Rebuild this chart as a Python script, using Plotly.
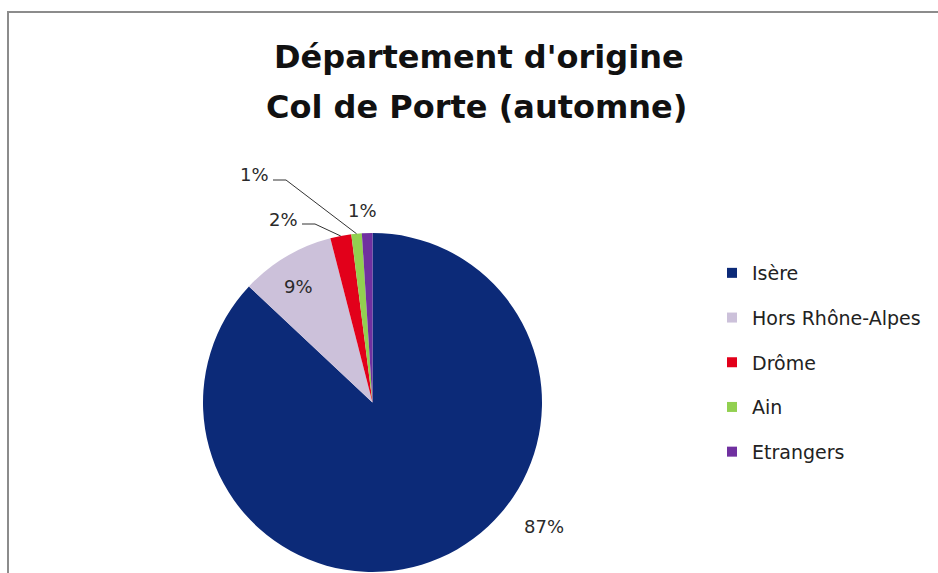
import math
import plotly.graph_objects as go

# ---- data ----
labels = ["Isère", "Hors Rhône-Alpes", "Drôme", "Ain", "Etrangers"]
values = [87, 9, 2, 1, 1]
colors = ["#0C2A78", "#CCC1DA", "#E2001A", "#92D050", "#7030A0"]
title_lines = ["Département d'origine", "Col de Porte (automne)"]

# ---- layout constants (pixels) ----
W, H = 938, 573
PIE_L, PIE_R, PIE_T, PIE_B = 203, 542, 233, 572
label_pos = [(544, 526), (298, 286), (283, 219), (254, 175), (362, 210)]
label_halfwidth = [21, 15, 14, 14, 14]
leader = [False, False, True, True, False]
FONT = "DejaVu Sans"


def px(x):
    return x / W


def py(y):
    return 1 - y / H


fig = go.Figure()
fig.add_trace(go.Pie(
    labels=labels, values=values, sort=False, direction="clockwise", rotation=0,
    marker=dict(colors=colors, line=dict(width=0)),
    textinfo="none", hoverinfo="label+percent", showlegend=False,
    domain=dict(x=[px(PIE_L), px(PIE_R)], y=[py(PIE_B), py(PIE_T)]),
))

# legend entries (one group per category for spacing)
for lab, col in zip(labels, colors):
    fig.add_trace(go.Scatter(
        x=[None], y=[None], mode="markers", name=lab, legendgroup=lab,
        marker=dict(symbol="square", size=10, color=col), hoverinfo="skip",
    ))

annotations = []
shapes = []
# title
annotations.append(dict(text=title_lines[0], x=px(479), y=py(57), xref="paper", yref="paper",
                        showarrow=False, xanchor="center", yanchor="middle",
                        font=dict(family=FONT, size=32, color="#111111", weight=700)))
annotations.append(dict(text=title_lines[1], x=px(476), y=py(107), xref="paper", yref="paper",
                        showarrow=False, xanchor="center", yanchor="middle",
                        font=dict(family=FONT, size=32, color="#111111", weight=700)))

# data labels + leader lines
cx = (PIE_L + PIE_R) / 2
cy = (PIE_T + PIE_B) / 2
r = (PIE_R - PIE_L) / 2
total = sum(values)
cum = 0
for i, v in enumerate(values):
    mid = (cum + v / 2) / total * 2 * math.pi
    cum += v
    lx, ly = label_pos[i]
    annotations.append(dict(text=f"{round(v / total * 100)}%", x=px(lx), y=py(ly),
                            xref="paper", yref="paper", showarrow=False,
                            xanchor="center", yanchor="middle",
                            font=dict(family=FONT, size=18, color="#2a2a2a")))
    if leader[i]:
        hx = cx + r * math.sin(mid)
        hy = cy - r * math.cos(mid)
        sx = lx + label_halfwidth[i] + 5
        sy = ly + 5
        path = (f"M {px(sx)},{py(sy)} L {px(sx + 13)},{py(sy)} L {px(hx)},{py(hy)}")
        shapes.append(dict(type="path", path=path, xref="paper", yref="paper",
                           line=dict(color="#333333", width=1)))

# outer frame
shapes.append(dict(type="rect", xref="paper", yref="paper", x0=px(8), x1=1.05,
                   y0=-0.05, y1=py(12), line=dict(color="#8c8c8c", width=2), layer="below"))

fig.update_layout(
    width=W, height=H,
    margin=dict(l=0, r=0, t=0, b=0),
    paper_bgcolor="white", plot_bgcolor="white",
    xaxis=dict(visible=False), yaxis=dict(visible=False),
    showlegend=True,
    legend=dict(x=px(712), y=py(254), xanchor="left", yanchor="top",
                font=dict(family=FONT, size=19, color="#222222"),
                tracegroupgap=17, bgcolor="rgba(0,0,0,0)", itemclick=False),
    annotations=annotations, shapes=shapes,
)

fig.write_html("out.html", config={"displayModeBar": False},
               post_script="document.body.style.margin='0';document.body.style.padding='0';")
